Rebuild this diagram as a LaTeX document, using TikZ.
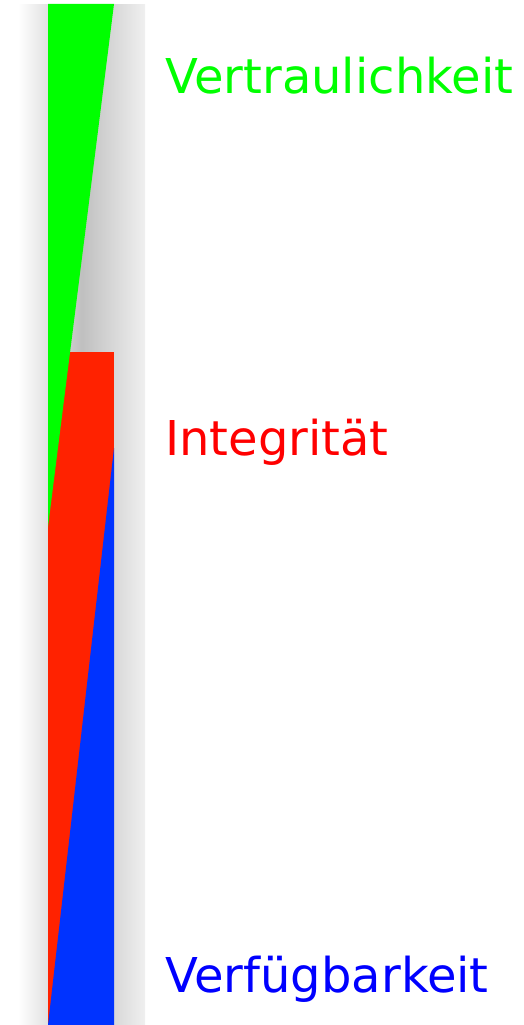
\documentclass[tikz,border=0pt]{standalone}
\usepackage{fontspec}
\setmainfont{DejaVu Sans}
\usetikzlibrary{positioning}
\definecolor{Green}{HTML}{00FF00}
\definecolor{BarRed}{HTML}{FF2200}
\definecolor{BarBlue}{HTML}{0033FF}
\definecolor{TextRed}{HTML}{FF0000}
\definecolor{TextBlue}{HTML}{0000FF}
\tikzset{
  goal/.style={anchor=base west,inner sep=0pt,font=\fontsize{48}{57}\selectfont},
}

\begin{document}
\begin{tikzpicture}[x=1pt,y=-1pt]
    \useasboundingbox (0,0) rectangle (523,1025);
    % shadow behind the bar
    \shade[left color=white,right color=black!6,middle color=black!25] (18,5) rectangle (145,1025);
    \fill[BarRed] (48,352) rectangle (114,1025);
    \fill[BarBlue] (114,448) -- (114,1025) -- (48,1025) -- cycle;
    \fill[Green] (48,4) -- (114,4) -- (48,527) -- cycle;

    \node[goal,text=Green] (vertr) at (165,93) {Vertraulichkeit};
    \node[goal,text=TextRed] (integ) at (165,455) {Integrität};
    \node[goal,text=TextBlue] (verfueg) at (165,992) {Verfügbarkeit};
  \end{tikzpicture}
\end{document}
